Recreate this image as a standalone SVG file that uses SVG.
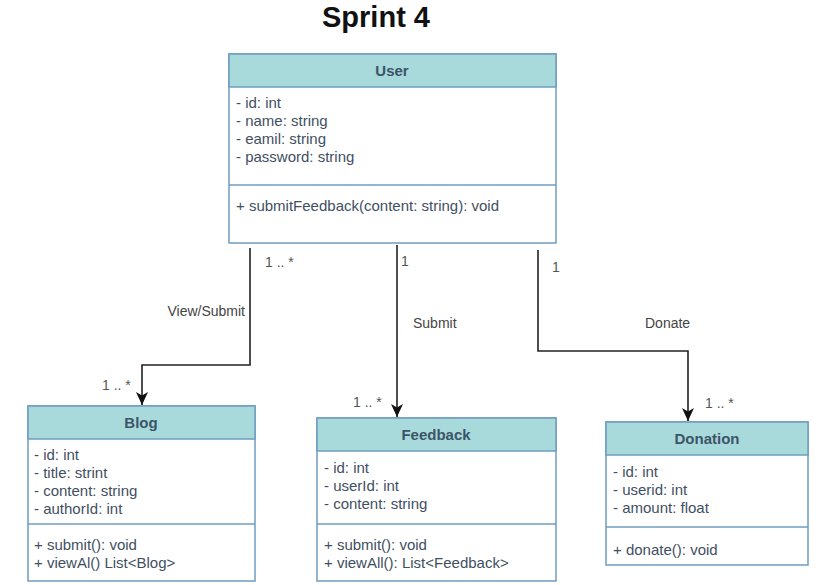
<svg xmlns="http://www.w3.org/2000/svg" width="822" height="585" viewBox="0 0 822 585">
<style>
  .box { fill: #ffffff; stroke: #6f9cc0; stroke-width: 1.5; }
  .hdr { fill: #a8dadc; stroke: #6f9cc0; stroke-width: 1.5; }
  .div { stroke: #6f9cc0; stroke-width: 1.5; }
  .ht { font-family: "Liberation Sans", Arial, sans-serif; font-size: 15px; font-weight: bold; fill: #3c5468; text-anchor: middle; }
  .t { font-family: "Liberation Sans", Arial, sans-serif; font-size: 15px; fill: #3f4f62; }
  .lbl { font-family: "Liberation Sans", Arial, sans-serif; font-size: 14px; fill: #444444; }
  .mul { font-family: "Liberation Sans", Arial, sans-serif; font-size: 14px; fill: #555555; }
  .edge { fill: none; stroke: #222222; stroke-width: 1.6; }
</style>
<defs>
  <marker id="arr" markerUnits="userSpaceOnUse" markerWidth="14" markerHeight="12" refX="13" refY="6" orient="auto">
    <path d="M0,0 L13,6 L0,12 L3.5,6 Z" fill="#111111"/>
  </marker>
</defs>
<rect width="822" height="585" fill="#ffffff"/>
<text x="376" y="27" font-family="'Liberation Sans', Arial, sans-serif" font-size="29" font-weight="bold" fill="#111111" text-anchor="middle">Sprint 4</text>

<g id="connectors">
  <path class="edge" d="M250,248 L250,365 L142,365 L142,405" marker-end="url(#arr)"/>
  <path class="edge" d="M397,245 L397,417" marker-end="url(#arr)"/>
  <path class="edge" d="M538,250 L538,351 L688,351 L688,421" marker-end="url(#arr)"/>
  <text class="mul" x="265" y="267">1 .. *</text>
  <text class="lbl" x="245" y="316" text-anchor="end">View/Submit</text>
  <text class="mul" x="102" y="390">1 .. *</text>
  <text class="mul" x="401" y="266">1</text>
  <text class="lbl" x="413" y="328">Submit</text>
  <text class="mul" x="353" y="407">1 .. *</text>
  <text class="mul" x="552" y="272">1</text>
  <text class="lbl" x="645" y="328">Donate</text>
  <text class="mul" x="705" y="408">1 .. *</text>
</g>

<g id="user">
  <rect class="box" x="229" y="54" width="327" height="189"/>
  <rect class="hdr" x="229" y="54" width="327" height="33"/>
  <line class="div" x1="229" y1="185" x2="556" y2="185"/>
  <text class="ht" x="392" y="76">User</text>
  <text class="t" x="236" y="108">- id: int</text>
  <text class="t" x="236" y="126">- name: string</text>
  <text class="t" x="236" y="144">- eamil: string</text>
  <text class="t" x="236" y="162">- password: string</text>
  <text class="t" x="236" y="211">+ submitFeedback(content: string): void</text>
</g>

<g id="blog">
  <rect class="box" x="28" y="406" width="227" height="175"/>
  <rect class="hdr" x="28" y="406" width="227" height="33"/>
  <line class="div" x1="28" y1="524" x2="255" y2="524"/>
  <text class="ht" x="141" y="428">Blog</text>
  <text class="t" x="34" y="460">- id: int</text>
  <text class="t" x="34" y="478">- title: strint</text>
  <text class="t" x="34" y="496">- content: string</text>
  <text class="t" x="34" y="514">- authorId: int</text>
  <text class="t" x="34" y="550">+ submit(): void</text>
  <text class="t" x="34" y="568">+ viewAl() List&lt;Blog&gt;</text>
</g>

<g id="feedback">
  <rect class="box" x="317" y="418" width="239" height="163"/>
  <rect class="hdr" x="317" y="418" width="239" height="33"/>
  <line class="div" x1="317" y1="524" x2="556" y2="524"/>
  <text class="ht" x="436" y="440">Feedback</text>
  <text class="t" x="324" y="473">- id: int</text>
  <text class="t" x="324" y="491">- userId: int</text>
  <text class="t" x="324" y="509">- content: string</text>
  <text class="t" x="324" y="550">+ submit(): void</text>
  <text class="t" x="324" y="568">+ viewAll(): List&lt;Feedback&gt;</text>
</g>

<g id="donation">
  <rect class="box" x="606" y="422" width="202" height="143"/>
  <rect class="hdr" x="606" y="422" width="202" height="33"/>
  <line class="div" x1="606" y1="527" x2="808" y2="527"/>
  <text class="ht" x="707" y="444">Donation</text>
  <text class="t" x="613" y="477">- id: int</text>
  <text class="t" x="613" y="495">- userid: int</text>
  <text class="t" x="613" y="513">- amount: float</text>
  <text class="t" x="613" y="555">+ donate(): void</text>
</g>
</svg>
